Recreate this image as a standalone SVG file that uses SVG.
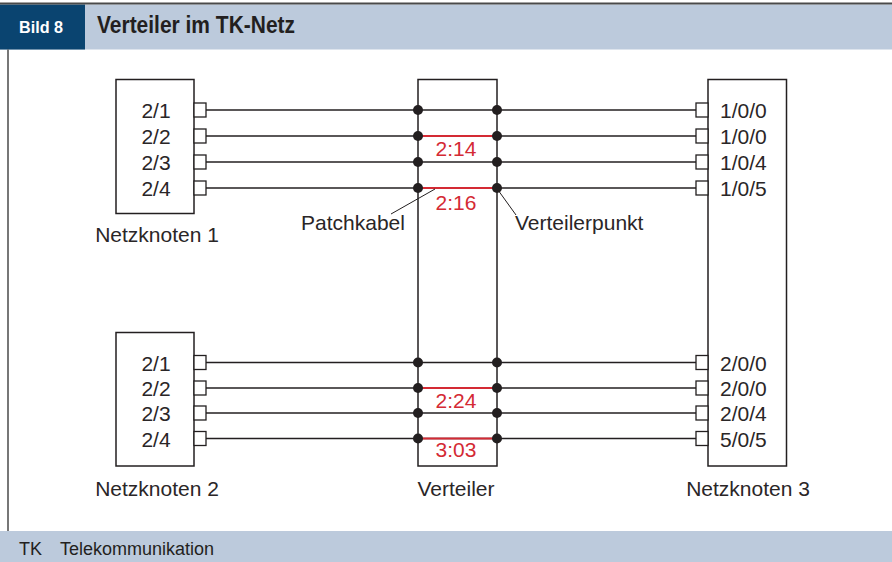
<svg xmlns="http://www.w3.org/2000/svg" width="892" height="562" viewBox="0 0 892 562">
<style>
.t{font-family:"Liberation Sans",Arial,sans-serif;font-size:21px;fill:#2a2627}
.r{font-family:"Liberation Sans",Arial,sans-serif;font-size:21px;fill:#d42a34;text-anchor:middle}
.box{fill:#fff;stroke:#231f20;stroke-width:1.5}
.port{fill:#fff;stroke:#231f20;stroke-width:1.3}
.ln{stroke:#231f20;stroke-width:1.5;fill:none}
.patch{stroke:#d42a34;stroke-width:1.8}
.dot{fill:#231f20}
</style>
<rect x="0" y="0" width="892" height="562" fill="#fff"/>
<!-- header -->
<g id="header">
<rect x="0" y="4.5" width="892" height="45" fill="#bccadc"/>
<rect x="0" y="4.5" width="85" height="45" fill="#0a4470"/>
<rect x="0" y="2.5" width="892" height="2" fill="#4a4a4a"/>
<text x="19" y="32.5" font-family="Liberation Sans,Arial,sans-serif" font-weight="bold" font-size="17" fill="#fff" textLength="44" lengthAdjust="spacingAndGlyphs">Bild 8</text>
<text x="97" y="32.5" font-family="Liberation Sans,Arial,sans-serif" font-weight="bold" font-size="24" fill="#231f20" textLength="198" lengthAdjust="spacingAndGlyphs">Verteiler im TK-Netz</text>
</g>
<line x1="8" y1="49.5" x2="8" y2="531" stroke="#4a4a4a" stroke-width="1.5"/>
<!-- footer -->
<g id="footer">
<rect x="0" y="531" width="892" height="31" fill="#bccadc"/>
<text x="19" y="555" font-family="Liberation Sans,Arial,sans-serif" font-size="18" fill="#231f20">TK</text>
<text x="60" y="555" font-family="Liberation Sans,Arial,sans-serif" font-size="18" fill="#231f20">Telekommunikation</text>
</g>
<!-- connectors -->
<g id="connectors">
<line class="ln" x1="206" y1="110" x2="696" y2="110"/>
<line class="ln" x1="206" y1="136" x2="696" y2="136"/>
<line class="ln" x1="206" y1="162" x2="696" y2="162"/>
<line class="ln" x1="206" y1="188" x2="696" y2="188"/>
<line class="ln" x1="206" y1="362.5" x2="696" y2="362.5"/>
<line class="ln" x1="206" y1="388" x2="696" y2="388"/>
<line class="ln" x1="206" y1="413" x2="696" y2="413"/>
<line class="ln" x1="206" y1="438.5" x2="696" y2="438.5"/>
<line class="patch" x1="418" y1="136" x2="497" y2="136"/>
<line class="patch" x1="418" y1="188" x2="497" y2="188"/>
<line class="patch" x1="418" y1="388" x2="497" y2="388"/>
<line class="patch" x1="418" y1="438.5" x2="497" y2="438.5"/>
<line stroke="#231f20" stroke-width="1" x1="391" y1="214" x2="435" y2="189"/>
<line stroke="#231f20" stroke-width="1" x1="498" y1="190" x2="516" y2="215"/>
</g>
<!-- Netzknoten 1 -->
<g id="netzknoten1">
<rect class="box" x="116" y="79.5" width="78" height="134"/>
<rect class="port" x="194" y="103" width="12" height="14"/>
<rect class="port" x="194" y="129" width="12" height="14"/>
<rect class="port" x="194" y="155" width="12" height="14"/>
<rect class="port" x="194" y="181" width="12" height="14"/>
<g class="t" text-anchor="middle">
<text x="156" y="118">2/1</text>
<text x="156" y="144">2/2</text>
<text x="156" y="170">2/3</text>
<text x="156" y="196">2/4</text>
<text x="157" y="242">Netzknoten 1</text>
</g>
</g>
<!-- Netzknoten 2 -->
<g id="netzknoten2">
<rect class="box" x="116" y="332.5" width="78" height="133.5"/>
<rect class="port" x="194" y="355.5" width="12" height="14"/>
<rect class="port" x="194" y="381" width="12" height="14"/>
<rect class="port" x="194" y="406" width="12" height="14"/>
<rect class="port" x="194" y="431.5" width="12" height="14"/>
<g class="t" text-anchor="middle">
<text x="156" y="370.5">2/1</text>
<text x="156" y="396">2/2</text>
<text x="156" y="421">2/3</text>
<text x="156" y="446.5">2/4</text>
<text x="157" y="495.5">Netzknoten 2</text>
</g>
</g>
<!-- Verteiler -->
<g id="verteiler">
<rect x="418" y="79.5" width="79" height="386.5" fill="none" stroke="#231f20" stroke-width="1.5"/>
<g class="dot">
<circle cx="418" cy="110" r="5"/><circle cx="497" cy="110" r="5"/>
<circle cx="418" cy="136" r="5"/><circle cx="497" cy="136" r="5"/>
<circle cx="418" cy="162" r="5"/><circle cx="497" cy="162" r="5"/>
<circle cx="418" cy="188" r="5"/><circle cx="497" cy="188" r="5"/>
<circle cx="418" cy="362.5" r="5"/><circle cx="497" cy="362.5" r="5"/>
<circle cx="418" cy="388" r="5"/><circle cx="497" cy="388" r="5"/>
<circle cx="418" cy="413" r="5"/><circle cx="497" cy="413" r="5"/>
<circle cx="418" cy="438.5" r="5"/><circle cx="497" cy="438.5" r="5"/>
</g>
<text class="r" x="456" y="156">2:14</text>
<text class="r" x="456" y="210">2:16</text>
<text class="r" x="456" y="407.5">2:24</text>
<text class="r" x="456" y="457">3:03</text>
<text class="t" x="456" y="495.5" text-anchor="middle">Verteiler</text>
<text class="t" x="353" y="230" text-anchor="middle">Patchkabel</text>
<text class="t" x="515" y="230">Verteilerpunkt</text>
</g>
<!-- Netzknoten 3 -->
<g id="netzknoten3">
<rect class="box" x="708" y="79.5" width="78.5" height="386.5"/>
<rect class="port" x="696" y="103" width="12" height="14"/>
<rect class="port" x="696" y="129" width="12" height="14"/>
<rect class="port" x="696" y="155" width="12" height="14"/>
<rect class="port" x="696" y="181" width="12" height="14"/>
<rect class="port" x="696" y="355.5" width="12" height="14"/>
<rect class="port" x="696" y="381" width="12" height="14"/>
<rect class="port" x="696" y="406" width="12" height="14"/>
<rect class="port" x="696" y="431.5" width="12" height="14"/>
<g class="t">
<text x="720" y="118">1/0/0</text>
<text x="720" y="144">1/0/0</text>
<text x="720" y="170">1/0/4</text>
<text x="720" y="196">1/0/5</text>
<text x="720" y="370.5">2/0/0</text>
<text x="720" y="396">2/0/0</text>
<text x="720" y="421">2/0/4</text>
<text x="720" y="446.5">5/0/5</text>
<text x="748" y="495.5" text-anchor="middle">Netzknoten 3</text>
</g>
</g>
</svg>
